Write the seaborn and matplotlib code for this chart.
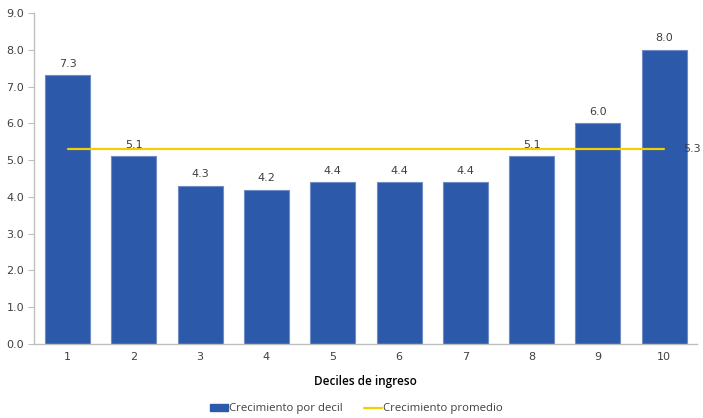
import numpy as np
import pandas as pd
import matplotlib
matplotlib.use("Agg")
import matplotlib.pyplot as plt
import seaborn as sns
from matplotlib.patches import Patch
from matplotlib.lines import Line2D

# data
deciles = ["1", "2", "3", "4", "5", "6", "7", "8", "9", "10"]
crecimiento = [7.3, 5.1, 4.3, 4.2, 4.4, 4.4, 4.4, 5.1, 6.0, 8.0]
promedio = 5.3

bar_color = "#2C59AA"
line_color = "#F2CF00"

sns.set_style("white")
plt.rcParams["font.family"] = ["DejaVu Sans"]

df = pd.DataFrame({"decil": deciles, "valor": crecimiento})

fig = plt.figure(figsize=(7.03, 4.18), dpi=100)
ax = fig.add_axes([0.049, 0.177, 0.943, 0.792])

sns.barplot(data=df, x="decil", y="valor", color=bar_color, width=0.68,
            edgecolor="#6E8CC8", linewidth=0.8, saturation=1, ax=ax)

# average line across the deciles
pos = np.arange(len(deciles))
sns.lineplot(x=pos, y=[promedio] * len(deciles), color=line_color, linewidth=1.6, ax=ax)
ax.text(len(deciles) - 0.72, promedio, f"{promedio:.1f}", va="center", ha="left",
        fontsize=8, color="#404040", clip_on=False)

# value labels
for i, v in enumerate(crecimiento):
    ax.text(i, v + 0.18, f"{v:.1f}", ha="center", va="bottom", fontsize=8, color="#404040")

ax.set_ylim(0, 9)
ax.set_yticks(np.arange(0, 9.1, 1))
ax.set_yticklabels([f"{t:.1f}" for t in np.arange(0, 9.1, 1)])
ax.set_xlim(-0.5, len(deciles) - 0.5)
ax.set_ylabel("")
ax.set_xlabel("Deciles de ingreso", fontsize=8.5, fontweight="semibold",
              family=["Open Sans", "DejaVu Sans"], color="black", labelpad=9)

# tick marks between categories
ax.set_xticks(pos)
ax.set_xticks(np.arange(-0.5, len(deciles), 1), minor=True)
ax.tick_params(axis="x", which="major", length=0, labelsize=8, colors="#404040", pad=6)
ax.tick_params(axis="x", which="minor", length=4, color="#BFBFBF", direction="out")
ax.tick_params(axis="y", length=4, color="#BFBFBF", labelsize=8, labelcolor="#404040",
               direction="out", left=True)

for s in ["top", "right"]:
    ax.spines[s].set_visible(False)
for s in ["left", "bottom"]:
    ax.spines[s].set_color("#BFBFBF")
    ax.spines[s].set_linewidth(1.0)

handles = [Patch(facecolor=bar_color, edgecolor=bar_color),
           Line2D([0], [0], color=line_color, linewidth=1.6)]
fig.legend(handles, ["Crecimiento por decil", "Crecimiento promedio"],
           loc="center", bbox_to_anchor=(0.507, 0.022), ncol=2, frameon=False,
           prop={"family": ["Open Sans", "DejaVu Sans"], "size": 8.2},
           handlelength=1.6, handleheight=0.5, handletextpad=0.1, columnspacing=1.8,
           labelcolor="#404040")

fig.savefig("out.png", dpi=100)
